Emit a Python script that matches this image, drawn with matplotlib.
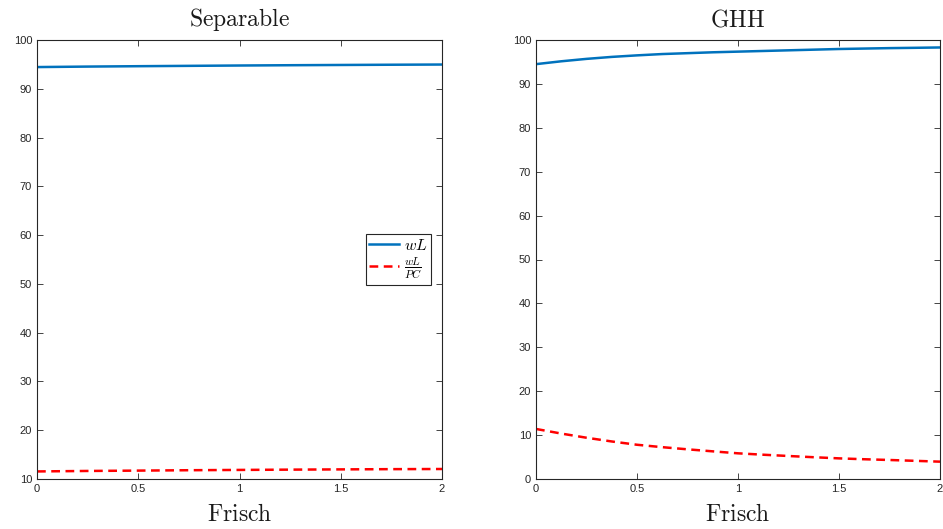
import matplotlib
matplotlib.use("Agg")
import matplotlib.pyplot as plt

plt.rcParams['mathtext.fontset'] = 'cm'
plt.rcParams['font.family'] = ['Liberation Sans', 'DejaVu Sans']

frisch_sep = [0.0, 0.25, 0.5, 0.75, 1.0, 1.25, 1.5, 1.75, 2.0]
sep_wL = [94.45, 94.55, 94.63, 94.7, 94.77, 94.83, 94.88, 94.93, 94.97]
sep_wLPC = [11.55, 11.65, 11.72, 11.8, 11.86, 11.92, 11.97, 12.02, 12.05]

frisch_ghh = [0.0, 0.125, 0.25, 0.375, 0.5, 0.625, 0.75, 0.875, 1.0,
              1.125, 1.25, 1.375, 1.5, 1.625, 1.75, 1.875, 2.0]
ghh_wL = [94.5, 95.15, 95.7, 96.15, 96.5, 96.8, 97.0, 97.2, 97.35,
          97.5, 97.65, 97.8, 97.95, 98.05, 98.15, 98.22, 98.3]
ghh_wLPC = [11.4, 10.35, 9.4, 8.55, 7.8, 7.25, 6.76, 6.3, 5.85,
            5.53, 5.24, 4.96, 4.7, 4.5, 4.33, 4.14, 3.95]

blue = (0.0, 0.447, 0.741)
fig = plt.figure(figsize=(9.43, 5.29), dpi=100)
ax1 = fig.add_axes([37/943, 1-479/529, 405/943, 439/529])
ax2 = fig.add_axes([536/943, 1-479/529, 404/943, 439/529])

def style(ax, ylim, yticks, title):
    ax.set_xlim(0, 2)
    ax.set_ylim(*ylim)
    ax.set_xticks([0, 0.5, 1, 1.5, 2])
    ax.set_xticklabels(['0', '0.5', '1', '1.5', '2'])
    ax.set_yticks(yticks)
    ax.tick_params(direction='in', top=True, right=True, labelsize=8, length=4,
                   color='0.15', labelcolor='0.15', width=0.6)
    for s in ax.spines.values():
        s.set_color('0.15')
        s.set_linewidth(0.8)
    ax.set_title(r'$\mathrm{' + title + '}$', fontsize=17, pad=10, color='0.1')
    ax.set_xlabel(r'$\mathrm{Frisch}$', fontsize=17, labelpad=7, color='0.1')

dash = (0, (3.5, 2.2))
ax1.plot(frisch_sep, sep_wL, color=blue, lw=1.8, label=r'$wL$')
ax1.plot(frisch_sep, sep_wLPC, color='r', lw=1.8, ls=dash, label=r'$\frac{wL}{PC}$')
style(ax1, (10, 100), list(range(10, 101, 10)), 'Separable')
leg = ax1.legend(loc='center right', fontsize=11.5, frameon=True, fancybox=False,
                 edgecolor='0.15', framealpha=1, borderpad=0.2, handlelength=1.9,
                 handletextpad=0.3, labelspacing=0.2, borderaxespad=0.7)
leg.get_frame().set_linewidth(0.8)

ax2.plot(frisch_ghh, ghh_wL, color=blue, lw=1.8)
ax2.plot(frisch_ghh, ghh_wLPC, color='r', lw=1.8, ls=dash)
style(ax2, (0, 100), list(range(0, 101, 10)), 'GHH')

fig.savefig('out.png', dpi=100)
